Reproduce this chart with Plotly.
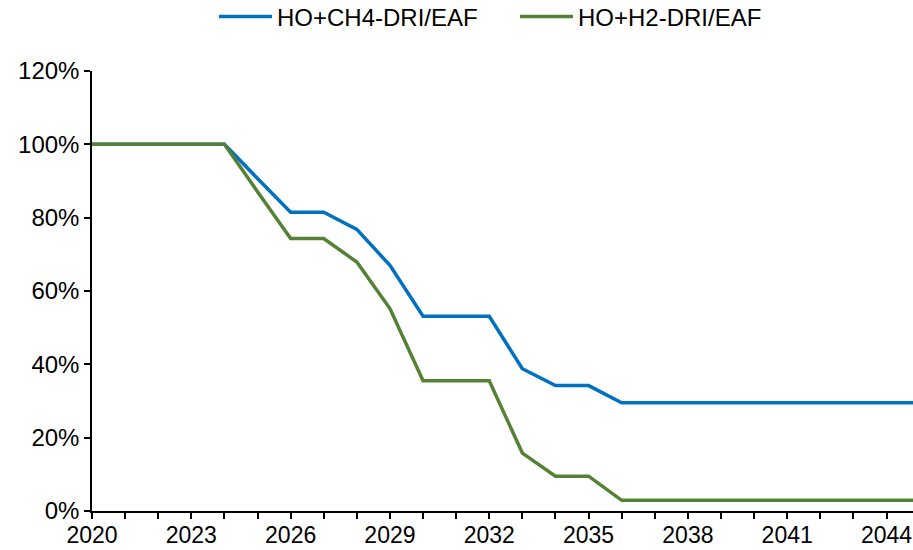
import plotly.graph_objects as go

years = list(range(2020, 2051))
ch4_dri = [100, 100, 100, 100, 100, 90.7, 81.5, 81.5, 76.8, 67.0, 53.1, 53.1, 53.1,
           38.8, 34.2, 34.2, 29.5] + [29.5] * 14
h2_dri = [100, 100, 100, 100, 100, 87.1, 74.3, 74.3, 67.9, 55.2, 35.5, 35.5, 35.5,
          15.8, 9.5, 9.5, 2.9] + [2.9] * 14
series_names = ["HO+CH4-DRI/EAF", "HO+H2-DRI/EAF"]
x_tick_vals = list(range(2020, 2045, 3))
y_tick_vals = [0, 20, 40, 60, 80, 100, 120]
y_tick_text = [f"{v}%" for v in y_tick_vals]

font = dict(family="Liberation Sans, Arial, sans-serif", size=24, color="#000000")
xfont = dict(family="Liberation Sans, Arial, sans-serif", size=23, color="#000000")

fig = go.Figure()
fig.add_trace(go.Scatter(x=years, y=ch4_dri, mode="lines", name=series_names[0],
                         line=dict(color="#0070C0", width=3.5)))
fig.add_trace(go.Scatter(x=years, y=h2_dri, mode="lines", name=series_names[1],
                         line=dict(color="#548235", width=3.5)))

fig.update_layout(
    width=913, height=550,
    margin=dict(l=92, r=0, t=71, b=39, autoexpand=False),
    paper_bgcolor="white", plot_bgcolor="white",
    font=font,
    showlegend=True,
    legend=dict(orientation="h", x=0.1486, xanchor="left", y=1.1227, yanchor="middle",
                font=font, bgcolor="rgba(0,0,0,0)",
                itemwidth=53, entrywidth=233, tracegroupgap=0),
    xaxis=dict(range=[2020, 2044.8], tickvals=x_tick_vals, showgrid=False,
               showline=True, linecolor="#000000", linewidth=1.5,
               ticks="outside", ticklen=6, tickwidth=1.5, tickcolor="#000000",
               minor=dict(dtick=1, tick0=2020, ticks="outside", ticklen=6,
                          tickwidth=1.5, tickcolor="#000000", showgrid=False),
               zeroline=False, tickfont=xfont, ticklabeloverflow="allow",
               ticklabelstandoff=-3),
    yaxis=dict(range=[0, 120], tickvals=y_tick_vals, ticktext=y_tick_text, showgrid=False,
               showline=True, linecolor="#000000", linewidth=1.5,
               ticks="outside", ticklen=6, tickwidth=1.5, tickcolor="#000000",
               zeroline=False, tickfont=font),
)
fig.write_html("out.html", config={"displayModeBar": False},
               post_script="document.body.style.margin='0';document.body.style.overflow='hidden';")
